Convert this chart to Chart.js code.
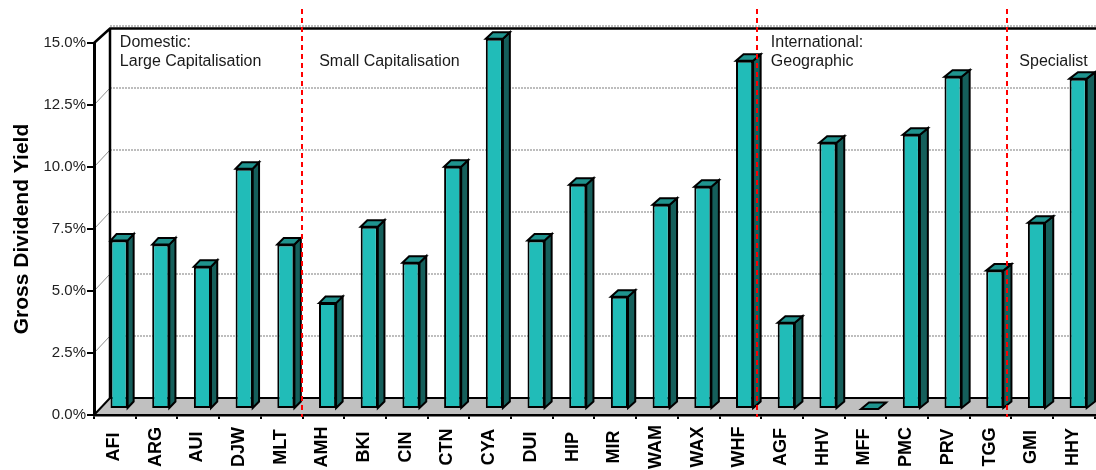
<!DOCTYPE html>
<html>
<head>
<meta charset="utf-8">
<title>Gross Dividend Yield</title>
<script src="https://cdn.jsdelivr.net/npm/chart.js@4"></script>
<style>
  html, body { margin: 0; padding: 0; background: #fff; overflow: hidden; }
  #wrap { width: 1096px; height: 470px; position: relative; }
</style>
</head>
<body>
<div id="wrap"><canvas id="yieldChart"></canvas></div>
<script>
// --- Data ---
const tickers = ['AFI', 'ARG', 'AUI', 'DJW', 'MLT', 'AMH', 'BKI', 'CIN', 'CTN', 'CYA', 'DUI', 'HIP',
                 'MIR', 'WAM', 'WAX', 'WHF', 'AGF', 'HHV', 'MFF', 'PMC', 'PRV', 'TGG', 'GMI', 'HHY'];
const grossYield = [6.79, 6.63, 5.74, 9.69, 6.63, 4.27, 7.35, 5.90, 9.77, 14.93, 6.79, 9.04,
                    4.53, 8.24, 8.96, 14.04, 3.48, 10.74, 0, 11.06, 13.40, 5.58, 7.51, 13.32];
const yTicks = [0, 2.5, 5, 7.5, 10, 12.5, 15];

// group captions and the red separators (in category units)
const groupNames = [['Domestic:', 'Large Capitalisation'], ['', 'Small Capitalisation'],
                    ['International:', 'Geographic'], ['', 'Specialist']];
const groupNameAt = [0.12, 4.9, 15.73, 21.69];
const dividerAt = [4.48, 15.4, 21.39];

const FONT = '"Liberation Sans", Arial, sans-serif';

// 3D look
const WALL_DX = 16, WALL_DY = 17;   // depth of the back wall
const BAR_DX = 4.2, BAR_DY = 6;     // where the bar front sits inside the box
const BAR_TOP_DY = 6.5;             // depth of a bar

// Draws the box (walls, floor, grid), the bar sides, the tick names and the separators
const box3d = {
    id: 'box3d',
    beforeDraw(chart) {
        const {ctx, chartArea: a, scales: {y}} = chart;
        const top = y.getPixelForValue(15), bottom = y.getPixelForValue(0);
        ctx.save();

        // floor
        ctx.fillStyle = '#c0c0c0';
        ctx.beginPath();
        ctx.moveTo(a.left, bottom);
        ctx.lineTo(a.right, bottom);
        ctx.lineTo(a.right + WALL_DX, bottom - WALL_DY);
        ctx.lineTo(a.left + WALL_DX, bottom - WALL_DY);
        ctx.closePath();
        ctx.fill();

        // back wall grid
        ctx.strokeStyle = '#a8a8a8';
        ctx.lineWidth = 1.5;
        ctx.setLineDash([2, 1]);
        yTicks.forEach(v => {
            if (v === 0) return;
            const py = y.getPixelForValue(v) - WALL_DY;
            ctx.beginPath();
            ctx.moveTo(a.left + WALL_DX, py);
            ctx.lineTo(a.right + WALL_DX, py);
            ctx.stroke();
        });

        // side wall grid
        ctx.setLineDash([]);
        ctx.lineWidth = 1;
        ctx.strokeStyle = '#8c8c8c';
        yTicks.forEach(v => {
            if (v === 0 || v === 15) return;
            const py = y.getPixelForValue(v);
            ctx.beginPath();
            ctx.moveTo(a.left, py);
            ctx.lineTo(a.left + WALL_DX, py - WALL_DY);
            ctx.stroke();
        });

        // edges
        ctx.strokeStyle = '#000';
        ctx.lineWidth = 2.5;
        const backTop = top - WALL_DY + 2.5;
        ctx.beginPath();
        ctx.moveTo(a.left, top);
        ctx.lineTo(a.left + WALL_DX, backTop);
        ctx.lineTo(a.right + WALL_DX, backTop);
        ctx.moveTo(a.left + WALL_DX, backTop);
        ctx.lineTo(a.left + WALL_DX, bottom - WALL_DY);
        ctx.stroke();

        ctx.lineWidth = 2;
        ctx.beginPath();
        ctx.moveTo(a.left, bottom);
        ctx.lineTo(a.left + WALL_DX, bottom - WALL_DY);
        ctx.lineTo(a.right + WALL_DX, bottom - WALL_DY);
        ctx.stroke();
        ctx.restore();
    },
    beforeDatasetsDraw(chart) {
        chart.ctx.save();
        chart.ctx.translate(BAR_DX, -BAR_DY);
    },
    afterDatasetsDraw(chart) {
        const {ctx, chartArea: a} = chart;
        ctx.lineWidth = 2;
        ctx.strokeStyle = '#000';
        ctx.lineJoin = 'miter';
        chart.getDatasetMeta(0).data.forEach(bar => {
            const {x, y, base, width} = bar.getProps(['x', 'y', 'base', 'width'], true);
            const l = x - width / 2, r = x + width / 2;
            const dx = 6 + 2.4 * (x - a.left) / (a.right - a.left);
            const dy = BAR_TOP_DY;

            // side
            ctx.fillStyle = '#155f5b';
            ctx.beginPath();
            ctx.moveTo(r, y);
            ctx.lineTo(r + dx, y - dy);
            ctx.lineTo(r + dx, base - dy);
            ctx.lineTo(r, base);
            ctx.closePath();
            ctx.fill();
            ctx.stroke();

            // top
            ctx.fillStyle = '#1f938e';
            ctx.beginPath();
            ctx.moveTo(l, y);
            ctx.lineTo(l + dx, y - dy);
            ctx.lineTo(r + dx, y - dy);
            ctx.lineTo(r, y);
            ctx.closePath();
            ctx.fill();
            ctx.stroke();
        });
        ctx.restore();
    },
    afterDraw(chart) {
        const {ctx, chartArea: a, scales: {x}} = chart;
        ctx.save();

        // tick names, rotated and centred under the axis
        ctx.fillStyle = '#000';
        ctx.font = 'bold 18px ' + FONT;
        ctx.textAlign = 'center';
        ctx.textBaseline = 'middle';
        x.ticks.forEach((t, i) => {
            ctx.save();
            ctx.translate(x.getPixelForTick(i) - 1, a.bottom + 32);
            ctx.rotate(-Math.PI / 2);
            ctx.fillText(chart.data.labels[i], 0, 0);
            ctx.restore();
        });

        // separators
        ctx.strokeStyle = '#ff0000';
        ctx.lineWidth = 2;
        ctx.setLineDash([5, 4]);
        dividerAt.forEach(v => {
            const px = Math.round(x.getPixelForValue(v));
            ctx.beginPath();
            ctx.moveTo(px, a.top - 34);
            ctx.lineTo(px, a.bottom + 2);
            ctx.stroke();
        });

        // group captions
        ctx.setLineDash([]);
        ctx.fillStyle = '#1a1a1a';
        ctx.font = '16px ' + FONT;
        ctx.textAlign = 'left';
        ctx.textBaseline = 'alphabetic';
        groupNames.forEach((lines, i) => {
            const px = x.getPixelForValue(groupNameAt[i]);
            lines.forEach((t, j) => ctx.fillText(t, px, a.top + 3.7 + j * 19));
        });
        ctx.restore();
    }
};

new Chart(document.getElementById('yieldChart'), {
    type: 'bar',
    data: {
        labels: tickers,
        datasets: [{
            data: grossYield,
            backgroundColor: '#21bcb8',
            borderColor: '#000',
            borderWidth: 2,
            borderSkipped: false,
            barPercentage: 0.41,
            categoryPercentage: 1,
            clip: false
        }]
    },
    options: {
        responsive: true,
        maintainAspectRatio: false,
        devicePixelRatio: 1,
        animation: false,
        layout: { padding: { top: 43, right: 1.2, bottom: 0, left: 0 } },
        plugins: { legend: { display: false }, tooltip: { enabled: false } },
        scales: {
            x: {
                grid: { drawOnChartArea: false, color: '#000', lineWidth: 2, tickLength: 4, offset: true },
                border: { color: '#000', width: 2.5 },
                ticks: { autoSkip: false, display: false },
                afterFit(s) { s.height = 55; s.paddingLeft = 0; s.paddingRight = 0; }
            },
            y: {
                min: 0,
                max: 15,
                afterBuildTicks(s) { s.ticks = yTicks.map(v => ({ value: v })); },
                grid: { drawOnChartArea: false, color: '#000', lineWidth: 2, tickLength: 7 },
                border: { color: '#000', width: 3 },
                ticks: {
                    padding: 1, color: '#222',
                    font: { family: FONT, size: 15 },
                    callback: v => v.toFixed(1) + '%'
                },
                title: {
                    display: true, text: 'Gross Dividend Yield', color: '#000',
                    font: { family: FONT, size: 21, weight: 'bold' },
                    padding: { top: 10, bottom: 0 }
                },
                afterFit(s) { s.width = 94; }
            }
        }
    },
    plugins: [box3d]
});
</script>
</body>
</html>
